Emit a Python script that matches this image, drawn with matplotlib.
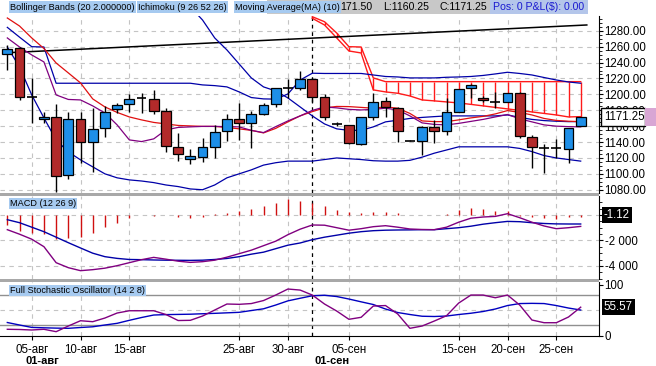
import numpy as np
import matplotlib
matplotlib.use('Agg')
import matplotlib.pyplot as plt
import matplotlib.patches as mpatches
from matplotlib import font_manager
from matplotlib.ticker import MultipleLocator, FormatStrFormatter

plt.rcParams['font.family'] = ['Liberation Sans', 'DejaVu Sans']

# narrow face for the indicator captions if the system has it
_names = {f.name for f in font_manager.fontManager.ttflist}
if 'Liberation Sans Narrow' in _names:
    CAP_FONT, CAP_SIZE = ['Liberation Sans Narrow', 'Liberation Sans'], 8.0
else:
    CAP_FONT, CAP_SIZE = ['Liberation Sans', 'DejaVu Sans'], 6.6

W, H = 656, 366

# ---- price data (one candle per trading day) ----
opens = [1250.8, 1258.0, 1197.5, 1168.7, 1171.3, 1098.7, 1168.7, 1139.8, 1157.4, 1181.3,
         1187.6, 1195.1, 1193.9, 1179.2, 1134.3, 1119.3, 1121.0, 1134.3, 1154.4, 1168.7,
         1163.7, 1175.4, 1188.0, 1207.7, 1207.7, 1219.0, 1196.4, 1162.8, 1161.6, 1137.7,
         1172.0, 1191.8, 1183.3, 1141.9, 1141.5, 1159.5, 1154.0, 1178.3, 1207.7, 1195.9,
         1190.9, 1190.1, 1202.2, 1146.9, 1133.0, 1132.3, 1131.0, 1160.7]
highs = [1262.0, 1260.0, 1220.3, 1178.3, 1188.0, 1178.3, 1178.3, 1182.6, 1185.5, 1189.6,
         1200.2, 1201.4, 1205.6, 1182.6, 1151.1, 1131.0, 1144.9, 1161.6, 1175.4, 1188.9,
         1179.2, 1188.9, 1208.5, 1219.0, 1229.5, 1221.0, 1200.6, 1165.7, 1162.0, 1171.3,
         1201.4, 1196.4, 1184.6, 1143.0, 1160.3, 1167.9, 1195.1, 1206.5, 1213.1, 1198.0,
         1203.4, 1201.4, 1203.4, 1149.0, 1137.3, 1143.6, 1157.4, 1171.5]
lows = [1230.7, 1193.0, 1163.7, 1164.5, 1077.7, 1093.3, 1113.4, 1102.9, 1146.1, 1177.0,
        1178.3, 1177.0, 1175.4, 1128.0, 1116.7, 1112.2, 1115.4, 1119.7, 1141.9, 1142.7,
        1132.3, 1174.2, 1184.6, 1195.1, 1205.6, 1190.0, 1167.9, 1160.3, 1137.0, 1136.4,
        1167.9, 1171.3, 1140.6, 1141.0, 1123.9, 1138.6, 1149.0, 1178.3, 1195.1, 1190.9,
        1182.6, 1190.1, 1144.9, 1107.0, 1101.6, 1119.7, 1114.0, 1160.25]
closes = [1256.7, 1197.2, 1197.0, 1171.3, 1097.5, 1168.7, 1139.8, 1156.2, 1177.5, 1186.3,
          1193.9, 1195.1, 1179.6, 1135.6, 1124.8, 1122.7, 1133.6, 1153.2, 1168.7, 1163.7,
          1175.4, 1186.3, 1207.7, 1207.7, 1219.0, 1197.2, 1171.3, 1162.8, 1138.6, 1171.3,
          1190.9, 1184.6, 1154.0, 1141.9, 1159.5, 1154.0, 1177.5, 1206.5, 1211.5, 1193.0,
          1190.9, 1201.4, 1148.1, 1133.6, 1133.0, 1132.3, 1157.4, 1171.25]

# ---- overlays ----
bb_upper = [1284.3, 1272.0, 1260.0, 1259.6, 1214.0, 1214.0, 1214.0, 1214.0, 1214.0, 1214.0,
            1214.0, 1214.0, 1214.0, 1214.0, 1214.0, 1214.0, 1211.9, 1211.0, 1209.4, 1203.1,
            1196.0, 1194.3, 1194.0, 1200.5, 1218.0, 1226.6, 1226.3, 1226.3, 1226.3, 1226.3,
            1224.4, 1222.5, 1221.9, 1220.7, 1220.7, 1220.7, 1221.5, 1221.9, 1222.5, 1223.8,
            1225.7, 1227.8, 1226.3, 1224.4, 1221.2, 1218.1, 1215.6, 1214.0]
bb_lower = [1259.6, 1234.5, 1199.3, 1170.4, 1142.7, 1127.6, 1117.6, 1108.8, 1100.0, 1095.0,
            1092.4, 1091.0, 1089.0, 1086.0, 1084.0, 1081.0, 1080.0, 1086.0, 1095.0, 1100.0,
            1105.0, 1111.0, 1114.0, 1116.0, 1116.0, 1116.0, 1118.0, 1120.0, 1119.0, 1118.0,
            1116.5, 1116.0, 1116.0, 1117.0, 1121.0, 1126.0, 1130.0, 1134.0, 1134.0, 1134.0,
            1134.0, 1134.0, 1132.0, 1128.0, 1123.0, 1120.0, 1118.0, 1116.0]
kijun = [np.nan] * 15 + [1310.0, 1293.6, 1271.0, 1255.9, 1238.3,
         1220.7, 1209.4, 1204.3, 1195.5, 1184.2, 1172.9, 1162.8, 1156.6, 1154.7, 1154.7,
         1159.1, 1165.4, 1167.5, 1169.7, 1171.0, 1172.0, 1172.9, 1172.9, 1172.9, 1172.9,
         1172.9, 1174.1, 1171.0, 1168.5, 1167.0, 1166.2, 1165.7, 1165.7]
tenkan = [1296.1, 1286.0, 1271.0, 1257.7, 1239.5, 1227.0, 1214.4, 1194.3, 1184.2, 1177.3,
          1171.6, 1167.9, 1164.7, 1162.8, 1160.9, 1160.3, 1159.7, 1159.7, 1158.4, 1156.6,
          1154.7, 1151.5, 1157.2, 1165.4, 1172.9, 1178.3, 1183.0, 1184.8, 1184.6, 1183.6,
          1182.6, 1184.2, 1182.6, 1176.0, 1166.6, 1165.7, 1165.7, 1167.9, 1170.4, 1172.3,
          1175.4, 1179.6, 1177.3, 1174.1, 1169.7, 1167.2, 1166.2, 1165.7]
ma10 = [1271.0, 1259.6, 1249.6, 1240.8, 1199.3, 1193.6, 1193.0, 1185.5, 1176.6, 1161.6,
        1142.7, 1140.6, 1144.0, 1155.3, 1158.4, 1159.1, 1159.7, 1159.7, 1159.4, 1159.1,
        1154.7, 1151.9, 1159.4, 1166.6, 1172.9, 1179.8, 1184.2, 1183.0, 1181.1, 1180.4,
        1181.1, 1182.6, 1180.4, 1172.9, 1164.1, 1162.2, 1161.6, 1163.5, 1166.0, 1168.5,
        1171.6, 1174.7, 1169.2, 1165.4, 1161.6, 1160.0, 1159.4, 1159.1]
# cloud, drawn from candle 25 onwards
cloud_start = 25
span_a = [1297.7, 1291.4, 1277.2, 1260.0, 1259.6, 1220.7, 1216.0, 1216.0, 1216.0, 1216.0,
          1216.0, 1216.0, 1216.0, 1216.0, 1216.0, 1216.0, 1216.0, 1216.0, 1216.0, 1216.0,
          1216.0, 1216.0, 1216.0]
span_b = [1295.7, 1287.3, 1271.0, 1254.6, 1252.1, 1205.6, 1203.1, 1201.4, 1198.0, 1193.0,
          1191.8, 1190.5, 1189.2, 1187.4, 1185.5, 1183.6, 1181.7, 1179.8, 1177.9, 1176.0,
          1174.1, 1171.6, 1172.0]
trend_x = [0, 47.5]
trend_y = [1252.4, 1287.3]

# ---- MACD (12 26 9) ----
macd_hist = [-784, -1227, -1384, -1514, -1906, -1775, -1697, -1384, -966, -600,
             -261, -30, -50, -30, -183, -261, -183, 78, 183, 340,
             470, 705, 966, 1227, 1096, 914, 705, 392, 261, 130,
             261, 261, 130, 0, 0, 0, 78, 392, 522, 470,
             340, 340, -50, -183, -261, -340, -183, -130]
macd_line = [-1152, -1505, -1897, -2485, -3740, -4132, -4367, -4288, -4171, -3975,
             -3740, -3504, -3324, -3465, -3622, -3716, -3661, -3544, -3308, -3034,
             -2760, -2407, -2054, -1544, -1113, -784, -800, -996, -1192, -1074,
             -917, -839, -956, -1098, -1137, -1152, -956, -564, -251, -157,
             -110, 102, -212, -564, -862, -1074, -996, -894]
macd_signal = [-368, -604, -956, -1309, -1740, -2172, -2587, -2995, -3269, -3403,
               -3489, -3504, -3528, -3544, -3552, -3559, -3544, -3489, -3410, -3269,
               -3073, -2916, -2642, -2368, -2195, -1936, -1740, -1584, -1427, -1309,
               -1231, -1192, -1176, -1168, -1152, -1152, -1074, -996, -878, -721,
               -604, -502, -525, -604, -666, -698, -706, -706]
macd_ticks = [0, -2000, -4000]
macd_ticklabels = ['0', '-2 000', '-4 000']

# ---- Full Stochastic (14 2 8) ----
stoch_k = [12.2, 11.8, 10.8, 12.2, 7.5, 18.6, 29.0, 27.1, 34.3, 44.1,
           48.6, 48.6, 48.6, 41.2, 29.4, 29.8, 38.2, 50.0, 61.8, 61.2,
           62.7, 68.6, 79.4, 91.2, 89.2, 79.4, 61.8, 48.0, 31.8, 35.7,
           57.8, 58.8, 42.2, 14.1, 18.6, 28.4, 38.8, 63.7, 79.4, 79.4,
           74.1, 79.4, 59.8, 30.4, 25.1, 25.1, 36.3, 55.57]
stoch_d = [25.5, 20.6, 15.9, 15.1, 14.5, 14.1, 15.7, 17.1, 20.6, 23.9,
           29.8, 35.3, 40.2, 41.0, 41.4, 41.8, 42.7, 43.5, 44.5, 45.5,
           49.0, 52.4, 59.8, 68.0, 73.1, 78.0, 79.0, 76.5, 71.6, 66.1,
           60.8, 52.0, 45.1, 41.2, 37.8, 37.3, 38.2, 41.2, 43.7, 47.1,
           52.0, 58.8, 62.7, 63.1, 62.7, 58.8, 53.9, 50.0]

# ---- date axis ----
tick_idx = [2, 6, 10, 19, 23, 28, 37, 41, 45]
tick_labels = ['05-авг', '10-авг', '15-авг', '25-авг', '30-авг',
               '05-сен', '15-сен', '20-сен', '25-сен']
month_idx = 25
month_labels = ['01-авг', '01-сен']
month_label_pos = [1.45, 25.2]

# header: (left px, text)
header_labels = [(10, 'Bollinger Bands (20 2.000000)'),
                 (138, 'Ichimoku (9 26 52 26)'),
                 (235, 'Moving Average(MA) (10)')]
ohlc_parts = [(340, '171.50'), (383, 'L:1160.25'), (440, 'C:1171.25')]
pos_text = 'Pos: 0 P&L($): 0.00'

UP = '#1e8fe8'
DOWN = '#b22a2a'
NAVY = '#0000a8'
GRID = '#c4c4c4'
HDR = '#a6caf0'

x = np.arange(len(closes))
fig = plt.figure(figsize=(W / 100, H / 100), dpi=100)
fig.patch.set_facecolor('white')


def px_axes(top, bottom):
    return fig.add_axes([0, 1 - bottom / H, 599 / W, (bottom - top) / H])


def style_panel(ax):
    for s in ['top', 'left', 'bottom']:
        ax.spines[s].set_visible(False)
    ax.spines['right'].set_color('black')
    ax.yaxis.tick_right()
    ax.tick_params(axis='y', which='major', length=3, pad=1, labelsize=8.3)
    ax.tick_params(axis='y', which='minor', length=2)
    ax.set_xlim(-0.6, 48.5)
    ax.set_xticks(tick_idx)
    for t in tick_idx:
        ax.axvline(t, color=GRID, lw=0.8, ls=(0, (4, 4)), zorder=0)
    ax.axvline(month_idx, color='black', lw=0.9, ls=(0, (3, 3)), zorder=1)


def caption(ax, yfrac, text):
    ax.text(0.017, yfrac, text, transform=ax.transAxes, va='center', ha='left',
            family=CAP_FONT, fontsize=CAP_SIZE, zorder=12,
            bbox=dict(boxstyle='square,pad=0.12', fc=HDR, ec='none'))


# ---------------- main price panel ----------------
ax = px_axes(16, 193)
style_panel(ax)
ax.set_ylim(1075.9, 1298.6)
ax.set_yticks(np.arange(1080, 1300, 20))
ax.yaxis.set_minor_locator(MultipleLocator(5))
ax.yaxis.set_major_formatter(FormatStrFormatter('%.2f'))
ax.grid(axis='y', color=GRID, lw=0.8, ls=(0, (4, 4)))
ax.set_axisbelow(True)
ax.tick_params(axis='x', length=0, labelbottom=False)

# Ichimoku cloud (hatched with vertical strokes)
cx = np.arange(cloud_start, cloud_start + len(span_a))
ax.vlines(cx, span_b, span_a, color='#ff1a1a', lw=1, zorder=2)
ax.plot(cx, span_a, color='#ff1a1a', lw=1, zorder=2)
ax.plot(cx, span_b, color='#ff1a1a', lw=1, zorder=2)

ax.plot(trend_x, trend_y, color='black', lw=1.1, zorder=3)
ax.plot(x, bb_upper, color=NAVY, lw=0.9, zorder=3)
ax.plot(x, bb_lower, color=NAVY, lw=0.9, zorder=3)
ax.plot(x, kijun, color=NAVY, lw=0.9, zorder=3)
ax.plot(x, tenkan, color='#e01010', lw=0.9, zorder=3)
ax.plot(x, ma10, color='#800080', lw=0.9, zorder=3)

# candles
o = np.array(opens)
c = np.array(closes)
body = c - o
doji = np.abs(body) < 0.6
ax.vlines(x, lows, highs, color='black', lw=1, zorder=4)
colors = np.array([UP if b > 0 else DOWN for b in body])
ax.bar(x[~doji], body[~doji], bottom=o[~doji], width=0.8,
       color=colors[~doji], edgecolor='black', lw=0.9, zorder=5)
ax.hlines(c[doji], x[doji] - 0.4, x[doji] + 0.4, color='black', lw=1.2, zorder=5)

# last price marker on the axis
last = closes[-1]
yt = ax.get_yaxis_transform()
ax.add_patch(mpatches.Rectangle((1.003, last - 11), 0.073, 22, transform=yt,
                                fc='white', ec='black', lw=1, clip_on=False, zorder=10))
ax.add_patch(mpatches.Rectangle((1.076, last - 11), 0.03, 22, transform=yt,
                                fc='#d8a6d4', ec='none', clip_on=False, zorder=10))
ax.text(1.008, last, '%.2f' % last, transform=yt, va='center', ha='left',
        fontsize=8.3, zorder=11)

# ---------------- MACD panel ----------------
ax2 = px_axes(196, 279)
style_panel(ax2)
ax2.set_ylim(-5020, 1490)
ax2.set_yticks(macd_ticks)
ax2.set_yticklabels(macd_ticklabels)
ax2.yaxis.set_minor_locator(MultipleLocator(500))
ax2.grid(axis='y', color=GRID, lw=0.8, ls=(0, (4, 4)))
ax2.set_axisbelow(True)
ax2.tick_params(axis='x', length=0, labelbottom=False)
ax2.vlines(x, 0, macd_hist, color='#d01010', lw=1, zorder=3)
ax2.plot(x, macd_signal, color=NAVY, lw=1, zorder=3)
ax2.plot(x, macd_line, color='#800080', lw=1, zorder=3)
caption(ax2, 0.905, 'MACD (12 26 9)')
ax2.text(1.008, 0, '-1.12', transform=ax2.get_yaxis_transform(), va='center', ha='left',
         fontsize=8.3, color='white', zorder=11,
         bbox=dict(boxstyle='square,pad=0.15', fc='black', ec='none'))

# ---------------- Stochastic panel ----------------
ax3 = px_axes(281.5, 335.5)
style_panel(ax3)
ax3.spines['bottom'].set_visible(True)
ax3.set_ylim(0, 106)
ax3.set_yticks([0, 100])
ax3.set_yticklabels(['0', '100'])
ax3.axhline(50, color=GRID, lw=0.8, ls=(0, (4, 4)), zorder=0)
ax3.axhline(80, color='#909090', lw=1, zorder=1)
ax3.axhline(20, color='#909090', lw=1, zorder=1)
ax3.plot(x, stoch_d, color='#0000c0', lw=1, zorder=3)
ax3.plot(x, stoch_k, color='#800080', lw=1, zorder=3)
ax3.set_xticklabels(tick_labels)
ax3.tick_params(axis='x', length=3, pad=3, labelsize=8.3)
for lbl, pos in zip(month_labels, month_label_pos):
    ax3.text(pos, -0.475, lbl, transform=ax3.get_xaxis_transform(), ha='left', va='center',
             fontsize=8, fontweight='bold')
caption(ax3, 0.833, 'Full Stochastic Oscillator (14 2 8)')
ax3.text(1.008, stoch_k[-1], '%.2f' % stoch_k[-1], transform=ax3.get_yaxis_transform(),
         va='center', ha='left', fontsize=8.3, color='white', zorder=11,
         bbox=dict(boxstyle='square,pad=0.15', fc='black', ec='none'))

# ---------------- panel separators and header ----------------
for top in (193, 278.5):
    fig.patches.append(mpatches.Rectangle((0, 1 - (top + 3) / H), 599 / W, 3 / H,
                                          transform=fig.transFigure, fc='#a8a8a8',
                                          ec='none', zorder=20))
fig.patches.append(mpatches.Rectangle((267 / W, 1 - 14 / H), 223 / W, 14 / H,
                                      transform=fig.transFigure, fc='#c8c8c8', ec='none'))
fig.patches.append(mpatches.Rectangle((490 / W, 1 - 14 / H), 98 / W, 14 / H,
                                      transform=fig.transFigure, fc='#b4c6ea', ec='none'))

hdr_y = 1 - 7 / H
for left, label in header_labels:
    fig.text(left / W, hdr_y, label, family=CAP_FONT, fontsize=CAP_SIZE, va='center',
             ha='left', zorder=30,
             bbox=dict(boxstyle='square,pad=0.12', fc=HDR, ec='none'))
for left, label in ohlc_parts:
    fig.text(left / W, hdr_y, label, fontsize=7.6, va='center', ha='left', zorder=30)
fig.text(493 / W, hdr_y, pos_text, fontsize=7.6, color='#1a1ad0',
         va='center', ha='left', zorder=30)

fig.savefig('out.png', dpi=100)
